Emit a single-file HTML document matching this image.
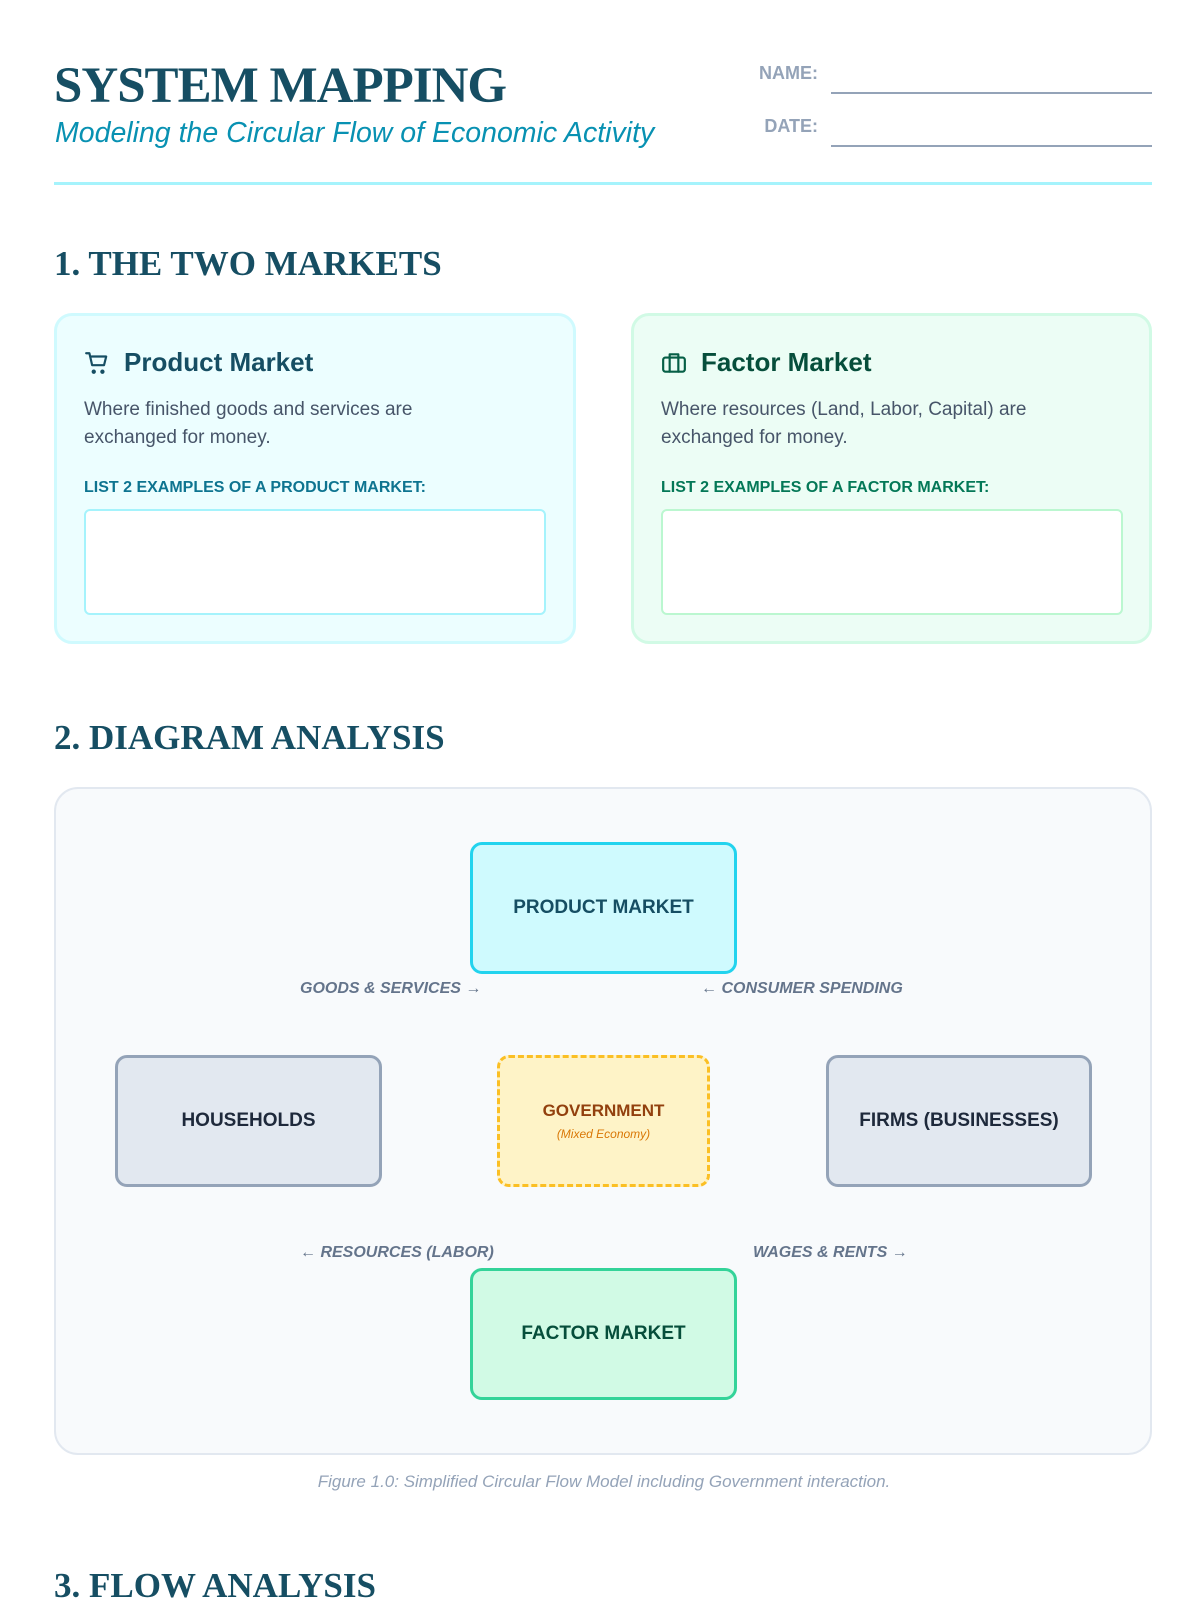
<!DOCTYPE html>
<html><head><meta charset="utf-8"><style>
*{margin:0;padding:0;box-sizing:border-box}
body{width:1200px;height:1600px;overflow:hidden;background:#fff;position:relative;font-family:"Liberation Sans",sans-serif}
.a{position:absolute}
.h{font-family:"Liberation Serif",serif;font-weight:bold;color:#164e63;white-space:nowrap}
.card{position:absolute;border-radius:18px;border:3px solid}
.box{position:absolute;border:3px solid;border-radius:12px;display:flex;flex-direction:column;align-items:center;justify-content:center;font-weight:bold;font-size:19px}
.lbl{position:absolute;font-style:italic;font-weight:bold;font-size:16px;color:#64748b;white-space:nowrap;line-height:20px}
</style></head><body>
<div class="a h" style="left:54px;top:54px;font-size:51px;line-height:64px;letter-spacing:-1px">SYSTEM MAPPING</div>
<div class="a" style="left:55px;top:117px;font-size:28.5px;font-style:italic;color:#0891b2;white-space:nowrap">Modeling the Circular Flow of Economic Activity</div>
<div class="a" style="left:700px;width:118px;top:63px;text-align:right;font-size:18px;font-weight:bold;color:#94a3b8">NAME:</div>
<div class="a" style="left:700px;width:118px;top:116px;text-align:right;font-size:18px;font-weight:bold;color:#94a3b8">DATE:</div>
<div class="a" style="left:831px;width:321px;top:92px;height:2px;background:#94a3b8"></div>
<div class="a" style="left:831px;width:321px;top:145px;height:2px;background:#94a3b8"></div>
<div class="a" style="left:54px;width:1098px;top:182px;height:3px;background:#a5f3fc"></div>

<div class="a h" style="left:54px;top:243px;font-size:35px;line-height:42px">1. THE TWO MARKETS</div>

<div class="card" style="left:54px;top:313px;width:522px;height:331px;background:#ecfeff;border-color:#cffafe"></div>
<svg class="a" style="left:84px;top:350px" width="26" height="26" viewBox="0 0 24 24" fill="none" stroke="#164e63" stroke-width="2" stroke-linecap="round" stroke-linejoin="round"><path d="M2 3h3l2.5 11h11l2-8H7"/><circle cx="9" cy="20" r="1"/><circle cx="17" cy="20" r="1"/></svg>
<div class="a" style="left:124px;top:347px;font-size:26px;font-weight:bold;color:#164e63">Product Market</div>
<div class="a" style="left:84px;top:396px;font-size:19px;line-height:28px;color:#475569;width:400px">Where finished goods and services are exchanged for money.</div>
<div class="a" style="left:84px;top:479px;font-size:16px;font-weight:bold;color:#0e7490">LIST 2 EXAMPLES OF A PRODUCT MARKET:</div>
<div class="a" style="left:84px;top:509px;width:462px;height:106px;background:#fff;border:2px solid #a5f3fc;border-radius:6px"></div>

<div class="card" style="left:631px;top:313px;width:521px;height:331px;background:#ecfdf5;border-color:#d1fae5"></div>
<svg class="a" style="left:661px;top:350px" width="26" height="26" viewBox="0 0 24 24" fill="none" stroke="#065f46" stroke-width="2" stroke-linecap="round" stroke-linejoin="round"><rect x="2" y="7" width="20" height="13" rx="2"/><path d="M8 7V4h8v3M8 7v13M16 7v13"/></svg>
<div class="a" style="left:701px;top:347px;font-size:26px;font-weight:bold;color:#064e3b">Factor Market</div>
<div class="a" style="left:661px;top:396px;font-size:19px;line-height:28px;color:#475569;width:420px">Where resources (Land, Labor, Capital) are exchanged for money.</div>
<div class="a" style="left:661px;top:479px;font-size:16px;font-weight:bold;color:#047857">LIST 2 EXAMPLES OF A FACTOR MARKET:</div>
<div class="a" style="left:661px;top:509px;width:462px;height:106px;background:#fff;border:2px solid #bbf7d0;border-radius:6px"></div>

<div class="a h" style="left:54px;top:717px;font-size:35px;line-height:42px">2. DIAGRAM ANALYSIS</div>

<div class="a" style="left:54px;top:787px;width:1098px;height:668px;background:#f8fafc;border:2px solid #e2e8f0;border-radius:24px"></div>
<div class="box" style="left:470px;top:842px;width:267px;height:132px;background:#cffafe;border-color:#22d3ee;color:#164e63">PRODUCT MARKET</div>
<div class="box" style="left:115px;top:1055px;width:267px;height:132px;background:#e2e8f0;border-color:#94a3b8;color:#1e293b">HOUSEHOLDS</div>
<div class="box" style="left:497px;top:1055px;width:213px;height:132px;background:#fef3c7;border:3px dashed #fbbf24;color:#92400e;font-size:17px">GOVERNMENT<div style="font-size:12px;font-weight:normal;font-style:italic;color:#d97706;margin-top:6px">(Mixed Economy)</div></div>
<div class="box" style="left:826px;top:1055px;width:266px;height:132px;background:#e2e8f0;border-color:#94a3b8;color:#1e293b">FIRMS (BUSINESSES)</div>
<div class="box" style="left:470px;top:1268px;width:267px;height:132px;background:#d1fae5;border-color:#34d399;color:#064e3b">FACTOR MARKET</div>

<div class="lbl" style="left:300px;top:979px">GOODS &amp; SERVICES →</div>
<div class="lbl" style="left:701px;top:979px">← CONSUMER SPENDING</div>
<div class="lbl" style="left:300px;top:1243px">← RESOURCES (LABOR)</div>
<div class="lbl" style="left:753px;top:1243px">WAGES &amp; RENTS →</div>

<div class="a" style="left:0;width:1208px;top:1472px;text-align:center;font-size:17px;font-style:italic;color:#94a3b8">Figure 1.0: Simplified Circular Flow Model including Government interaction.</div>

<div class="a h" style="left:54px;top:1565px;font-size:35px;line-height:42px">3. FLOW ANALYSIS</div>
</body></html>
